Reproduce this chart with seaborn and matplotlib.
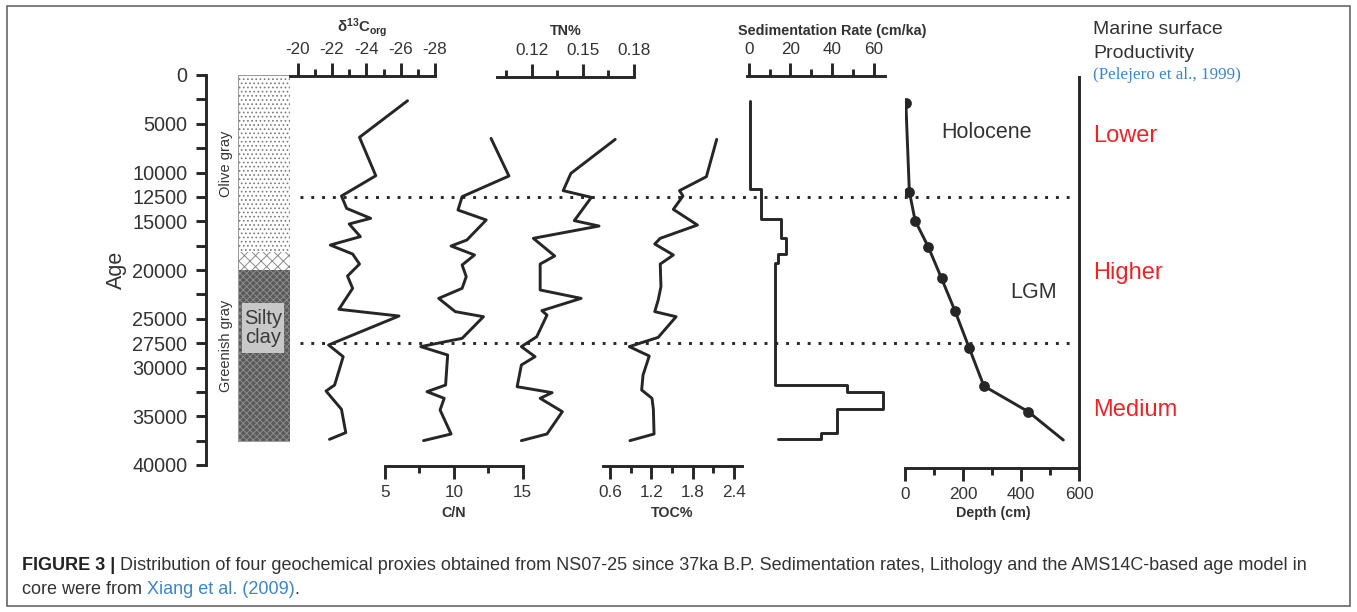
import numpy as np
import matplotlib
matplotlib.use("Agg")
import matplotlib.pyplot as plt
import seaborn as sns
from matplotlib.ticker import FixedLocator, FixedFormatter
from matplotlib.patches import Rectangle

# ---------------- data ----------------
d13c_age = [2640, 6390, 10330, 12410, 13680, 14700, 15280, 16580, 17440, 18360, 19390,
            20620, 21880, 24030, 24720, 27690, 28890, 31800, 32410, 34290, 36680, 37370]
d13c_val = [-26.4, -23.6, -24.55, -22.55, -22.85, -24.25, -23.0, -23.65, -21.9, -23.2, -23.6,
            -22.9, -23.2, -22.4, -25.9, -21.8, -22.65, -22.15, -21.65, -22.55, -22.8, -21.85]

cn_age = [6500, 10360, 12480, 13850, 14870, 16920, 17540, 18460, 19490, 20680, 21880, 22910,
          24270, 24790, 27010, 27860, 28720, 31800, 32480, 33160, 34360, 36820, 37500]
cn_val = [12.7, 14.0, 10.6, 10.3, 12.35, 10.95, 9.8, 11.5, 10.6, 10.9, 10.6, 8.9,
          10.1, 12.15, 10.6, 7.6, 9.55, 9.4, 8.05, 9.3, 9.0, 9.8, 7.8]

tn_age = [6600, 10090, 11860, 12550, 14940, 15490, 16750, 18560, 19390, 22050, 22910, 24170,
          24620, 26840, 27860, 28890, 29740, 31970, 32580, 33160, 34530, 36820, 37500]
tn_val = [0.169, 0.143, 0.1385, 0.155, 0.145, 0.1595, 0.121, 0.1335, 0.125, 0.125, 0.149, 0.126,
          0.129, 0.123, 0.114, 0.122, 0.114, 0.1115, 0.132, 0.125, 0.138, 0.129, 0.114]

toc_age = [6600, 10430, 11860, 12410, 13780, 15390, 16750, 17330, 18460, 19390, 21710, 23080,
           24270, 24790, 26910, 27860, 28820, 30770, 32310, 33160, 34290, 36820, 37500]
toc_val = [2.15, 2.0, 1.61, 1.66, 1.52, 1.87, 1.33, 1.25, 1.52, 1.33, 1.34, 1.3,
           1.25, 1.56, 1.3, 0.88, 1.17, 1.08, 1.06, 1.21, 1.23, 1.24, 0.89]

sed_bounds = [2640, 11730, 14800, 16750, 18360, 19320, 31800, 32480, 34290, 36680, 37370]
sed_rate = [0.6, 5.7, 15.3, 17.9, 14.2, 12.6, 47.0, 64.3, 42.5, 34.7]
sed_base = 14.2

dm_age = [2900, 11970, 14940, 17610, 20860, 24170, 27970, 31900, 34530]
dm_depth = [3, 15, 35, 80, 126, 172, 221, 272, 425]
core_base_age = 37440
core_base_depth = 546

litho_top = [0, 18150, 20000]
litho_bottom = [18150, 20000, 37500]
silty_clay = (23400, 28500)
boundaries = [12500, 27500]

age_ticks = list(range(0, 40001, 2500))
age_labeled = [0, 5000, 10000, 12500, 15000, 20000, 25000, 27500, 30000, 35000, 40000]

# ---------------- style ----------------
W, H = 1357, 612
sns.set_theme(style="white")
plt.rcParams["font.family"] = ["Liberation Sans", "DejaVu Sans"]
plt.rcParams["mathtext.fontset"] = "custom"
plt.rcParams["mathtext.rm"] = "Liberation Sans"
plt.rcParams["mathtext.bf"] = "Liberation Sans:bold"
plt.rcParams["mathtext.it"] = "Liberation Sans:italic"
plt.rcParams["hatch.linewidth"] = 0.7

INK = "#262626"
TXT = "#333333"
LW = 2.1
RED = "#e8262a"
BLUE = "#3d85c6"

AGE0_Y, AGE40_Y = 75.0, 465.0


def age_at(py):
    return (py - AGE0_Y) * 40000.0 / (AGE40_Y - AGE0_Y)


fig = plt.figure(figsize=(W / 100, H / 100), dpi=100)
fig.patch.set_facecolor("white")

over = fig.add_axes([0, 0, 1, 1])
over.set_xlim(0, W)
over.set_ylim(H, 0)
over.axis("off")
over.patch.set_alpha(0)


def px_axes(x0, x1, y0, y1):
    ax = fig.add_axes([x0 / W, 1 - y1 / H, (x1 - x0) / W, (y1 - y0) / H])
    ax.patch.set_alpha(0)
    for s in ax.spines.values():
        s.set_visible(False)
    ax._yspan = (y0, y1)
    return ax


def fix_y(ax):
    y0, y1 = ax._yspan
    ax.set_ylim(age_at(y1), age_at(y0))


def proxy_axis(ax, side, xlim, major, minor, fmt, labelsize=12.3):
    ax.set_xlim(*xlim)
    fix_y(ax)
    ax.set_yticks([])
    ax.spines[side].set_visible(True)
    ax.spines[side].set_linewidth(LW)
    ax.spines[side].set_color(INK)
    if side == "top":
        ax.xaxis.tick_top()
    else:
        ax.xaxis.tick_bottom()
    ax.xaxis.set_major_locator(FixedLocator(major))
    ax.xaxis.set_minor_locator(FixedLocator(minor))
    ax.xaxis.set_major_formatter(FixedFormatter([fmt(v) for v in major]))
    ax.tick_params(axis="x", which="major", direction="out", length=9.5, width=LW,
                   color=INK, labelsize=labelsize, labelcolor=TXT, pad=4)
    ax.tick_params(axis="x", which="minor", direction="out", length=5, width=LW, color=INK)
    ax.set_xlabel("")
    ax.set_ylabel("")


# ---------------- age axis ----------------
ax0 = px_axes(206, 1079, 75, 465)
fix_y(ax0)
ax0.spines["left"].set_visible(True)
ax0.spines["left"].set_linewidth(LW)
ax0.spines["left"].set_color(INK)
ax0.set_xticks([])
ax0.yaxis.set_major_locator(FixedLocator(age_ticks))
ax0.yaxis.set_major_formatter(FixedFormatter([str(t) if t in age_labeled else "" for t in age_ticks]))
ax0.tick_params(axis="y", which="major", direction="out", left=True, length=7.5, width=LW,
                color=INK, labelsize=14.3, labelcolor=TXT, pad=6)
ax0.set_ylabel("Age", fontsize=15.5, color=TXT)
ax0.yaxis.set_label_coords((127 - 206) / 873, 0.5)
for b in boundaries:
    ax0.axhline(b, xmin=(300 - 206) / 873, xmax=(1076 - 206) / 873, color=INK, lw=LW,
                ls=(0, (1, 2.7)))

# ---------------- lithology ----------------
axl = px_axes(238, 290, 75, 441.5)
fix_y(axl)
axl.set_xlim(0, 1)
axl.set_xticks([])
axl.set_yticks([])
styles = [dict(facecolor="white", hatch="....", edgecolor="#7a7a7a"),
          dict(facecolor="white", hatch="xxx", edgecolor="#8a8a8a"),
          dict(facecolor="#5a5a5a", hatch="xxxxx", edgecolor="#8c8c8c")]
for top, bot, st in zip(litho_top, litho_bottom, styles):
    axl.axhspan(top, bot, lw=0, **st)
axl.axhspan(silty_clay[0], silty_clay[1], xmin=0.08, xmax=0.885, facecolor="#c8c8c8", lw=0)
axl.text(0.48, sum(silty_clay) / 2, "Silty\nclay", ha="center", va="center", fontsize=14.5,
         color="#3a3a3a", linespacing=1.0)
axl.add_patch(Rectangle((0, litho_top[0]), 1, litho_bottom[-1] - litho_top[0], fill=False,
                        ec="#9a9a9a", lw=0.8))
over.text(226, 164, "Olive gray", rotation=90, ha="center", va="center", fontsize=10.5, color=TXT)
over.text(226, 346, "Greenish gray", rotation=90, ha="center", va="center", fontsize=10.5, color=TXT)

# ---------------- δ13C ----------------
ax1 = px_axes(290, 435, 76, 445)
sns.lineplot(x=d13c_val, y=d13c_age, sort=False, estimator=None, color=INK, lw=LW, ax=ax1)
proxy_axis(ax1, "top", (-19.55, -28), [-20, -22, -24, -26, -28], [-21, -23, -25, -27],
           lambda v: f"{v:d}")
over.text(362, 28, r"δ$^{\mathbf{13}}$C$_{\mathbf{org}}$", ha="center", va="center",
          fontsize=10.8, fontweight="bold", color=TXT)

# ---------------- C/N ----------------
ax2 = px_axes(385, 522.7, 100, 466)
sns.lineplot(x=cn_val, y=cn_age, sort=False, estimator=None, color=INK, lw=LW, ax=ax2)
proxy_axis(ax2, "bottom", (5, 15), [5, 10, 15], [7.5, 12.5], lambda v: f"{v:d}")
over.text(454, 513, "C/N", ha="center", va="center", fontsize=10.3, fontweight="bold", color=TXT)

# ---------------- TN% ----------------
ax3 = px_axes(497, 634, 77, 445)
sns.lineplot(x=tn_val, y=tn_age, sort=False, estimator=None, color=INK, lw=LW, ax=ax3)
proxy_axis(ax3, "top", (0.0997, 0.18), [0.12, 0.15, 0.18], [0.105, 0.135, 0.165],
           lambda v: f"{v:.2f}")
over.text(566, 31, "TN%", ha="center", va="center", fontsize=10.3, fontweight="bold", color=TXT)

# ---------------- TOC% ----------------
ax4 = px_axes(602.7, 741.7, 100, 466)
sns.lineplot(x=toc_val, y=toc_age, sort=False, estimator=None, color=INK, lw=LW, ax=ax4)
proxy_axis(ax4, "bottom", (0.494, 2.513), [0.6, 1.2, 1.8, 2.4], [0.9, 1.5, 2.1],
           lambda v: f"{v:.1f}")
over.text(672, 513, "TOC%", ha="center", va="center", fontsize=10.3, fontweight="bold", color=TXT)

# ---------------- sedimentation rate ----------------
sed_x, sed_y = [], []
for i, r in enumerate(sed_rate):
    sed_x += [r, r]
    sed_y += [sed_bounds[i], sed_bounds[i + 1]]
sed_x.append(sed_base)
sed_y.append(sed_bounds[-1])
ax5 = px_axes(747, 885, 76, 445)
sns.lineplot(x=sed_x, y=sed_y, sort=False, estimator=None, color=INK, lw=LW, ax=ax5)
proxy_axis(ax5, "top", (-0.8, 65.4), [0, 20, 40, 60], [10, 30, 50], lambda v: f"{v:d}")
over.text(832, 31, "Sedimentation Rate (cm/ka)", ha="center", va="center", fontsize=10.4,
          fontweight="bold", color=TXT)

# ---------------- depth / age model ----------------
ax6 = px_axes(905, 1079, 77, 468)
sns.lineplot(x=dm_depth + [core_base_depth], y=dm_age + [core_base_age], sort=False,
             estimator=None, color=INK, lw=LW, ax=ax6)
sns.scatterplot(x=dm_depth, y=dm_age, color=INK, s=60, edgecolor=INK, linewidth=0, ax=ax6, zorder=3)
proxy_axis(ax6, "bottom", (0, 600), [0, 200, 400, 600], [100, 300, 500], lambda v: f"{v:d}")
ax6.spines["right"].set_visible(True)
ax6.spines["right"].set_linewidth(LW)
ax6.spines["right"].set_color(INK)
ax6.tick_params(axis="y", right=False, left=False)
over.text(993, 513, "Depth (cm)", ha="center", va="center", fontsize=10.3, fontweight="bold", color=TXT)

over.text(941, 132, "Holocene", ha="left", va="center", fontsize=15.5, color=TXT)
over.text(1010, 292, "LGM", ha="left", va="center", fontsize=15.5, color=TXT)

# ---------------- right-hand annotation ----------------
over.text(1093, 30, "Marine surface", ha="left", va="center", fontsize=14, color=TXT)
over.text(1093, 53, "Productivity", ha="left", va="center", fontsize=14, color=TXT)
over.text(1093, 75, "(Pelejero et al., 1999)", ha="left", va="center", fontsize=12.3,
          color=BLUE, family="Liberation Serif")
over.text(1093, 136, "Lower", ha="left", va="center", fontsize=17, color=RED)
over.text(1093, 273, "Higher", ha="left", va="center", fontsize=17, color=RED)
over.text(1093, 410, "Medium", ha="left", va="center", fontsize=17, color=RED)

# ---------------- caption & frame ----------------
cap_fs = 13.0
t1 = over.text(22, 565, "FIGURE 3 |", fontsize=cap_fs, fontweight="bold", color="#222222", va="center")
over.annotate(" Distribution of four geochemical proxies obtained from NS07-25 since 37ka B.P. "
              "Sedimentation rates, Lithology and the AMS14C-based age model in",
              xy=(1, 0), xycoords=t1, va="bottom", fontsize=cap_fs, color="#333333")
t3 = over.text(22, 590, "core were from", fontsize=cap_fs, color="#333333", va="center")
t4 = over.annotate(" Xiang et al. (2009)", xy=(1, 0), xycoords=t3, va="bottom", fontsize=cap_fs,
                   color=BLUE)
over.annotate(".", xy=(1, 0), xycoords=t4, va="bottom", fontsize=cap_fs, color="#333333")
over.add_patch(Rectangle((7, 6), 1343, 600, fill=False, ec="#666666", lw=1.2))

fig.savefig("out.png", dpi=100, facecolor="white")
